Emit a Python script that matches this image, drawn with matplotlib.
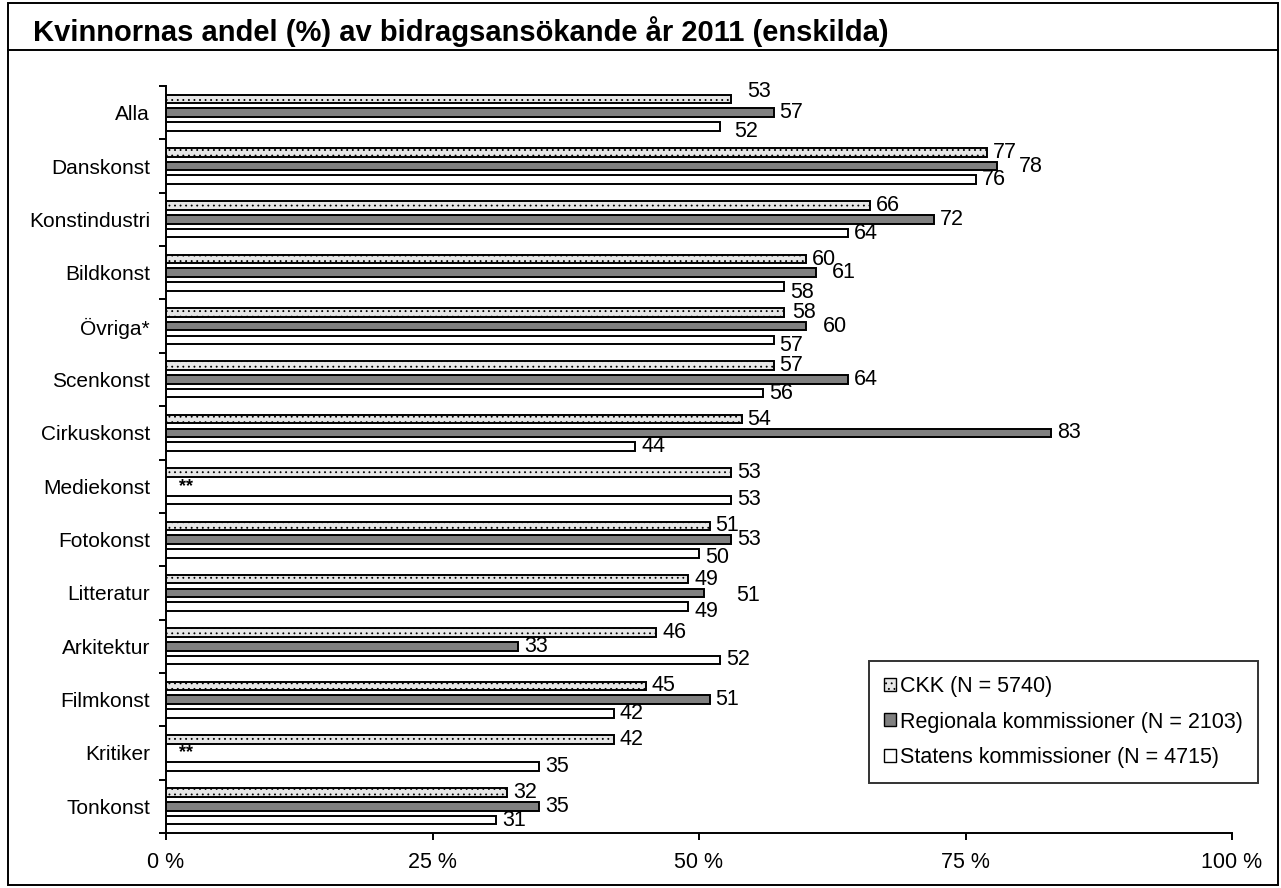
import matplotlib
matplotlib.use("Agg")
import matplotlib.pyplot as plt
from matplotlib.patches import Rectangle
from matplotlib.lines import Line2D
import numpy as np

plt.rcParams['font.family'] = ['Liberation Sans', 'DejaVu Sans']
plt.rcParams['hatch.linewidth'] = 0.6

categories = ["Alla", "Danskonst", "Konstindustri", "Bildkonst", "Övriga*",
              "Scenkonst", "Cirkuskonst", "Mediekonst", "Fotokonst",
              "Litteratur", "Arkitektur", "Filmkonst", "Kritiker", "Tonkonst"]
ckk = [53, 77, 66, 60, 58, 57, 54, 53, 51, 49, 46, 45, 42, 32]
regional = [57, 78, 72, 61, 60, 64, 83, None, 53, 50.5, 33, 51, None, 35]
statens = [52, 76, 64, 58, 57, 56, 44, 53, 50, 49, 52, 42, 35, 31]
series_names = ["CKK (N = 5740)", "Regionala kommissioner (N = 2103)",
                "Statens kommissioner (N = 4715)"]
xticks = [0, 25, 50, 75, 100]

# label nudges in pixels (series index, category index) -> (dx, dy); dy positive = down
nudges = {
    (0, 0): (16, -7), (2, 0): (14, 5),
    (1, 1): (21, 0),
    (1, 3): (16, 0), (2, 3): (6, 6),
    (0, 4): (8, 0), (1, 4): (17, 0), (2, 4): (6, 6),
    (2, 8): (6, 4),
    (1, 9): (32, 3), (2, 9): (6, 5),
}

FS = 15.5

fig = plt.figure(figsize=(12.81, 8.88), dpi=100)
ax = fig.add_axes([166 / 1281, 1 - 833 / 888, 1066 / 1281, 747 / 888])

y = np.arange(len(categories))
off = 0.257
h = 0.16
styles = [dict(facecolor="#e6e6e6", hatch="...", edgecolor="black"),
          dict(facecolor="#808080", edgecolor="black"),
          dict(facecolor="white", edgecolor="black")]
all_series = [ckk, regional, statens]
for s, (vals, st) in enumerate(zip(all_series, styles)):
    ys = y + (s - 1) * off
    for i, v in enumerate(vals):
        if v is None:
            ax.text(1.2, ys[i], "**", fontsize=13, fontweight="bold",
                    va="center", ha="left")
            continue
        ax.barh(ys[i], v, height=h, linewidth=1.4, **st)
        dx, dy = nudges.get((s, i), (6, 0))
        ax.annotate(str(int(v + 0.5)), (v, ys[i]), xytext=(dx, -dy),
                    textcoords="offset pixels", ha="left", va="center",
                    fontsize=FS)

ax.set_xlim(0, 100)
ax.set_ylim(len(categories) - 0.5, -0.5)
ax.set_xticks(xticks)
ax.set_xticklabels([f"{t} %" for t in xticks], fontsize=FS)
ax.set_yticks(y)
ax.set_yticklabels(categories, fontsize=15)
ax.set_yticks(np.arange(len(categories) + 1) - 0.5, minor=True)
ax.tick_params(axis="y", which="major", length=0, pad=11.5)
ax.tick_params(axis="y", which="minor", length=5, width=1.4, direction="out")
ax.tick_params(axis="x", length=5, width=1.4, direction="out", pad=9)
for side in ["top", "right"]:
    ax.spines[side].set_visible(False)
for side in ["left", "bottom"]:
    ax.spines[side].set_linewidth(1.4)

# legend
handles = [Rectangle((0, 0), 1, 1, linewidth=1.0, **st) for st in styles]
leg = ax.legend(handles, series_names, loc="lower right",
                bbox_to_anchor=(1258 / 1281, 1 - 783 / 888),
                bbox_transform=fig.transFigure, fontsize=FS,
                frameon=True, fancybox=False, edgecolor="black",
                handlelength=0.55, handleheight=0.55, handletextpad=0.2,
                labelspacing=0.67, borderpad=0.7, borderaxespad=0)
leg.get_frame().set_linewidth(1.4)

# outer frame and title bar
fig.patches.append(Rectangle((8 / 1281, 3 / 888), 1270 / 1281, 882 / 888,
                             transform=fig.transFigure, fill=False,
                             edgecolor="black", linewidth=1.4))
fig.lines.append(Line2D([8 / 1281, 1278 / 1281], [1 - 50 / 888, 1 - 50 / 888],
                        transform=fig.transFigure, color="black", linewidth=1.4))
fig.text(33 / 1281, 1 - 32 / 888,
         "Kvinnornas andel (%) av bidragsansökande år 2011 (enskilda)",
         fontsize=21, fontweight="bold", ha="left", va="center")

fig.savefig("out.png", dpi=100)
